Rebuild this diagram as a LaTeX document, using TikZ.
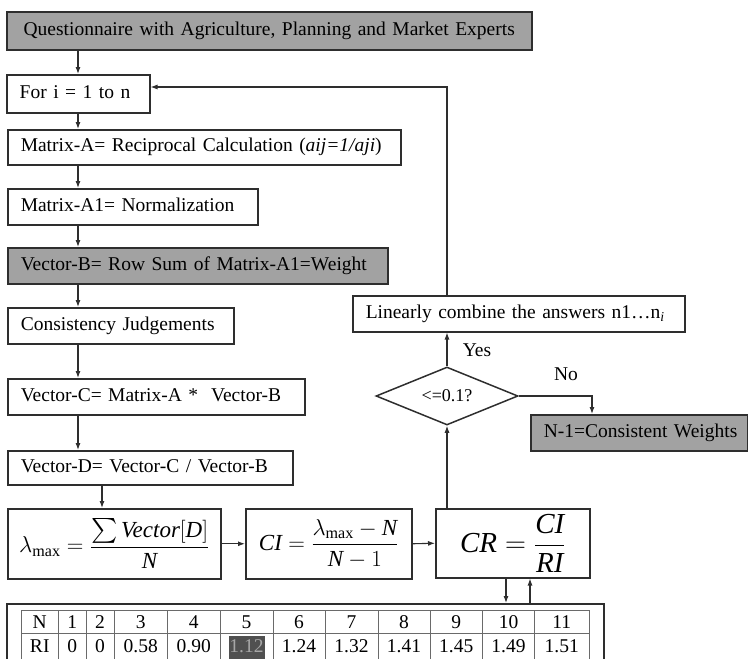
\RequirePackage{fix-cm}
\documentclass[tikz,border=0pt]{standalone}
\usepackage{amsmath}
\usepackage{fontspec}
\setmainfont{Liberation Serif}
\usetikzlibrary{arrows.meta,shapes.geometric}

\definecolor{ink}{HTML}{2E2E2E}
\definecolor{boxgray}{HTML}{A2A2A2}
\definecolor{cellgray}{HTML}{505050}
\definecolor{celltext}{HTML}{A6A6A6}
\definecolor{gridgray}{HTML}{6A6A6A}

\begin{document}
\begin{tikzpicture}[x=1pt,y=-1pt,
  font=\fontsize{19.5}{22}\selectfont,
  box/.style={draw=ink, line width=1.5pt, anchor=north west, inner xsep=13pt,
    inner ysep=0pt, align=left, text height=13pt, text depth=4pt},
  shaded/.style={box, fill=boxgray},
  formula/.style={draw=ink, line width=1.5pt, anchor=north west, inner sep=0pt, align=center},
  arr/.style={draw=ink, line width=1.1pt, -{Latex[length=7pt,width=5pt]}},
  gridline/.style={draw=gridgray, line width=0.8pt},
  tag/.style={inner sep=0pt}]

\useasboundingbox (0,0) rectangle (748,659);
\clip (0,0) rectangle (748,659);

% main column of steps
\node[shaded, text width=499pt, minimum height=38pt, align=center] (q) at (6,11)
  {\mbox{Questionnaire with Agriculture, Planning and Market Experts}};
\node[box, text width=117pt, minimum height=38pt] (fori) at (6,74) {\mbox{For i = 1 to n}};
\node[box, text width=367pt, minimum height=35pt] (ma) at (7,129)
  {\mbox{Matrix-A= Reciprocal Calculation (\textit{aij=1/aji})}};
\node[box, text width=224pt, minimum height=36pt] (ma1) at (7,188) {\mbox{Matrix-A1= Normalization}};
\node[shaded, text width=354pt, minimum height=36pt] (vb) at (7,247)
  {\mbox{Vector-B= Row Sum of Matrix-A1=Weight}};
\node[box, text width=200pt, minimum height=36pt] (cj) at (7,307) {\mbox{Consistency Judgements}};
\node[box, text width=271pt, minimum height=36pt] (vc) at (7,378) {\mbox{Vector-C= Matrix-A *\ \ Vector-B}};
\node[box, text width=259pt, minimum height=34pt] (vd) at (7,450) {\mbox{Vector-D= Vector-C / Vector-B}};

% formula boxes
\node[formula, minimum width=213pt, minimum height=70pt] (lam) at (7,508)
  {\fontsize{23}{26}\selectfont $\lambda_{\text{max}} = \dfrac{\textstyle\sum\textit{Vector}[\textit{D}]}{\textit{N}}$};
\node[formula, minimum width=166pt, minimum height=70pt] (ci) at (245,508)
  {\fontsize{23}{26}\selectfont $\textit{CI} = \dfrac{\lambda_{\text{max}} - \textit{N}}{\textit{N} - 1}$};
\node[formula, minimum width=154pt, minimum height=69pt] (cr) at (435,508)
  {\fontsize{29}{32}\selectfont $\textit{CR} = \dfrac{\textit{CI}}{\textit{RI}}$};

% decision branch
\node[draw=ink, line width=1.5pt, diamond, aspect=2.45, minimum width=142pt,
  minimum height=58pt, inner sep=0pt] (dec) at (447,396) {\fontsize{18}{20}\selectfont <=0.1?};
\node[box, text width=306pt, minimum height=36pt] (lin) at (352,295)
  {\mbox{Linearly combine the answers n1\ldots n\textsubscript{\textit{i}}}};
\node[shaded, text width=191pt, minimum height=36pt] (cw) at (530,414) {\mbox{N-1=Consistent Weights}};
\node[tag] (yes) at (477,350) {Yes};
\node[tag] (no) at (566,374) {No};

% random index table
\node[draw=ink, line width=1.5pt, anchor=north west, minimum width=597pt,
  minimum height=70pt, inner sep=0pt] (tab) at (6,603) {};
\fill[cellgray] (229,636) rectangle (265,659);
\draw[gridline] (21,610) -- (589,610) (21,633) -- (589,633);
\foreach \x in {21,58.5,86,114,167.5,220,273,325,378,430,482.5,534.5,589}
  \draw[gridline] (\x,610) -- (\x,662);
\foreach \a/\b/\t/\r [count=\i] in {21/58.5/N/RI, 58.5/86/1/0, 86/114/2/0,
    114/167.5/3/0.58, 167.5/220/4/0.90, 273/325/6/1.24, 325/378/7/1.32,
    378/430/8/1.41, 430/482.5/9/1.45, 482.5/534.5/10/1.49, 534.5/589/11/1.51}
  {\node[tag] (head\i) at ({(\a+\b)/2},622) {\t};
   \node[tag] (ri\i) at ({(\a+\b)/2},646) {\r};}
\node[tag] (headfive) at (246.5,622) {5};
\node[tag, text=celltext] (rifive) at (246.5,646) {1.12};

% connectors
\coordinate (spine) at (78,0);
\draw[arr] (q.south -| spine) -- (fori.north -| spine);
\draw[arr] (fori.south -| spine) -- (ma.north -| spine);
\draw[arr] (ma.south -| spine) -- (ma1.north -| spine);
\draw[arr] (ma1.south -| spine) -- (vb.north -| spine);
\draw[arr] (vb.south -| spine) -- (cj.north -| spine);
\draw[arr] (cj.south -| spine) -- (vc.north -| spine);
\draw[arr] (vc.south -| spine) -- (vd.north -| spine);
\coordinate (drop) at (102,0);
\draw[arr] (vd.south -| drop) -- (lam.north -| drop);
\draw[arr] (lam.east) -- (ci.west);
\draw[arr] (ci.east) -- (cr.west);
\draw[arr] (dec.south |- cr.north) -- (dec.south);
\draw[arr] (dec.north) -- (dec.north |- lin.south);
\coordinate (loop) at (447,87);
\draw[arr] (dec.north |- lin.north) -- (loop) -- (fori.east |- loop);
\coordinate (nodrop) at (592,0);
\draw[arr] (dec.east) -| (cw.north -| nodrop);
\coordinate (tdown) at (506,0);
\coordinate (tup) at (530,0);
\draw[arr] (cr.south -| tdown) -- (tab.north -| tdown);
\draw[arr] (tab.north -| tup) -- (cr.south -| tup);
\end{tikzpicture}
\end{document}
